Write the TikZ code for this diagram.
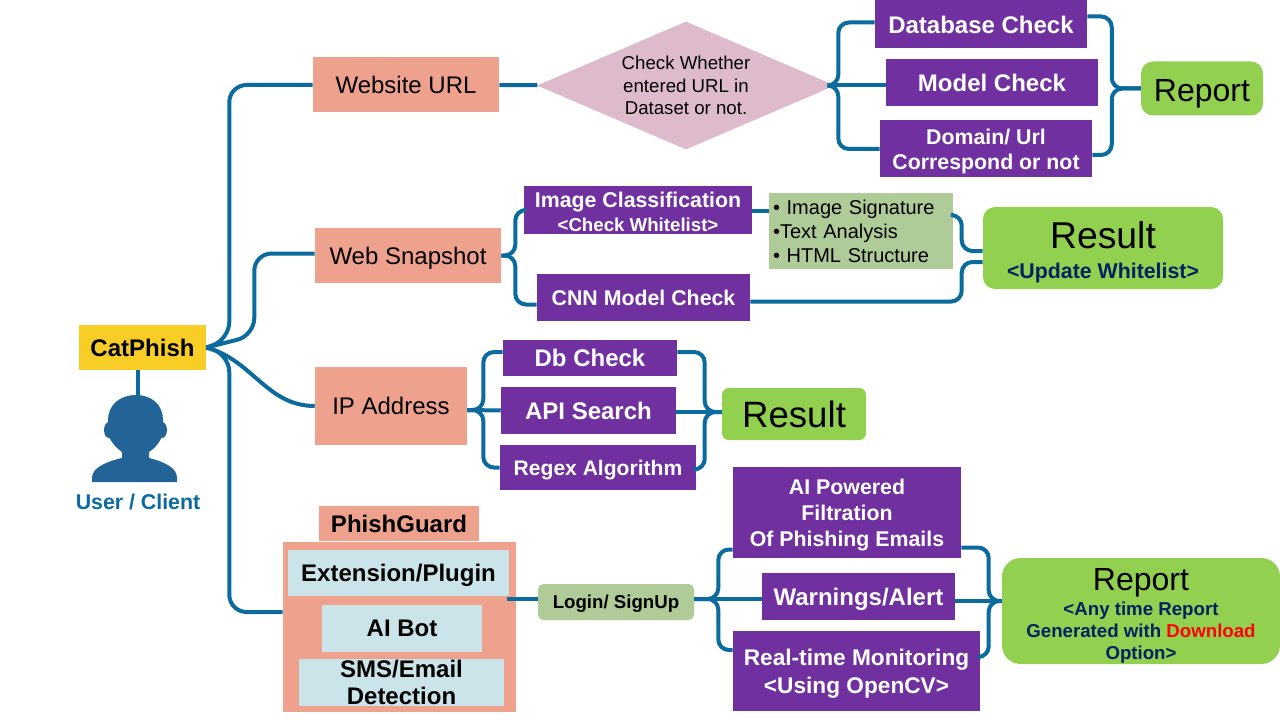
\documentclass[tikz,border=0pt]{standalone}
\usepackage{fontspec}
\setmainfont{Liberation Sans}
\usepackage{xcolor}
\usetikzlibrary{calc}
\usetikzlibrary{shapes.geometric}
\definecolor{linkblue}{HTML}{0B6A9E}
\definecolor{userblue}{HTML}{236498}
\definecolor{salmon}{HTML}{EEA28E}
\definecolor{checkpurple}{HTML}{7030A0}
\definecolor{reportgreen}{HTML}{92D050}
\definecolor{sagegreen}{HTML}{AFCB97}
\definecolor{paleblue}{HTML}{CBE4EA}
\definecolor{rosegrey}{HTML}{DDBBCD}
\definecolor{catyellow}{HTML}{F8CD25}
\definecolor{navytext}{HTML}{002060}
\newcommand{\navyline}[1]{{\bfseries\color{navytext}#1}}
\tikzset{boxsize/.style 2 args={minimum width=#1*0.75pt, minimum height=#2*0.75pt}}
\tikzstyle{inputbox} = [rectangle, fill=salmon, inner sep=0pt, align=center, text depth=0pt, font=\fontsize{18}{21}\selectfont]
\tikzstyle{checkbox} = [rectangle, fill=checkpurple, text=white, inner sep=0pt, align=center, text depth=0pt,
font=\fontsize{18}{19.5}\selectfont\bfseries]
\tikzstyle{toolbox} = [rectangle, fill=paleblue, inner sep=0pt, align=center, text depth=0pt,
font=\fontsize{18}{20.5}\selectfont\bfseries]
\tikzstyle{outbox} = [rectangle, rounded corners=9pt, fill=reportgreen, inner sep=0pt, align=center]
\tikzstyle{link} = [line width=3pt, draw=linkblue, rounded corners=8pt]
\tikzstyle{longlink} = [link, rounded corners=13pt]

\begin{document}
\begin{tikzpicture} [x=0.75pt, y=-0.75pt]
    \useasboundingbox (0,0) rectangle (1280,720);

    % the user side
    \node (CatPhish) [rectangle, fill=catyellow, inner sep=0pt, boxsize={127}{45},
        font=\fontsize{18}{20}\selectfont\bfseries] at (142.5,347.5) {CatPhish};
    \coordinate (UserHead) at (138,397);
    \fill [userblue] (92,478) .. controls (92,468) and (105,462) .. (122,458) -- (122,452)
        .. controls (115,447) and (109,440) .. (108,432) -- (108,420)
        .. controls (108,405) and (120,395) .. (136,395)
        .. controls (152,395) and (163,405) .. (163,420) -- (163,432)
        .. controls (161,442) and (155,448) .. (149,452) -- (149,458)
        .. controls (165,462) and (177,468) .. (177,478) -- (177,482) -- (92,482) -- cycle;
    \fill [userblue] (109,430) ellipse [x radius=5, y radius=8];
    \fill [userblue] (162,430) ellipse [x radius=5, y radius=8];
    \node (UserLabel) [text=linkblue, font=\fontsize{16}{18}\selectfont\bfseries] at (138,502) {User / Client};

    % the url row
    \node (Website) [inputbox, boxsize={186}{55}] at ($(CatPhish) + (263.5,-262.5)$) {Website URL};
    \node (Dataset) [diamond, aspect=2.33, fill=rosegrey, inner sep=0pt, boxsize={298}{128}, align=center, text depth=0pt,
        font=\fontsize{14}{17}\selectfont] at ($(Website) + (280,0.5)$) {Check Whether\\entered URL in\\Dataset or not.};
    \node (Database) [checkbox, boxsize={212}{48}] at ($(Dataset) + (295,-61)$) {Database Check};
    \node (Model) [checkbox, boxsize={212}{47}] at ($(Dataset) + (306,-2.5)$) {Model Check};
    \node (Domain) [checkbox, boxsize={212}{57}, font=\fontsize{16}{19}\selectfont\bfseries] at ($(Dataset) + (300,63.5)$) {Domain/ Url\\Correspond or not};
    \node (ReportA) [outbox, boxsize={122}{54}, text depth=0pt, text height=20pt, font=\fontsize{24}{28}\selectfont] at ($(Dataset) + (516,3)$) {Report};

    % the snapshot row
    \node (Snapshot) [inputbox, boxsize={186}{55}] at ($(CatPhish) + (265.5,-92)$) {Web Snapshot};
    \node (ImgClass) [checkbox, boxsize={228}{48}, text height=33pt, font=\fontsize{16}{18}\selectfont\bfseries] at ($(Snapshot) + (230,-45.5)$)
        {Image Classification\\{\fontsize{14}{16}\selectfont <Check Whitelist>}};
    \node (CNN) [checkbox, boxsize={213}{47}, font=\fontsize{16}{19}\selectfont\bfseries] at ($(Snapshot) + (235.5,42)$) {CNN Model Check};
    \node (Signature) [rectangle, fill=sagegreen, inner sep=0pt, boxsize={184}{76}, text width=176*0.75pt, align=left,
        font=\fontsize{15}{18}\selectfont] at ($(ImgClass) + (223,21)$) {• Image Signature\\•Text Analysis\\• HTML Structure};
    \node (ResultA) [outbox, boxsize={240}{82}, text height=49pt, font=\fontsize{16}{26}\selectfont] at ($(Signature) + (242,17)$)
        {{\fontsize{28}{26}\selectfont Result}\\[-3.75pt]\navyline{<Update Whitelist>}};

    % the ip row
    \node (IPaddr) [inputbox, boxsize={152}{78}] at ($(CatPhish) + (248.5,58.5)$) {IP Address};
    \node (DbCheck) [checkbox, boxsize={174}{36}] at ($(IPaddr) + (199,-48)$) {Db Check};
    \node (APISearch) [checkbox, boxsize={175}{47}] at ($(IPaddr) + (197.5,4.5)$) {API Search};
    \node (Regex) [checkbox, boxsize={196}{45}, font=\fontsize{15.8}{18}\selectfont\bfseries] at ($(IPaddr) + (207,61.5)$) {Regex Algorithm};
    \node (ResultB) [outbox, rounded corners=5pt, boxsize={144}{52}, font=\fontsize{27.5}{32}\selectfont] at ($(IPaddr) + (403,8)$) {Result};

    % the phishguard row
    \node (PhishBox) [rectangle, fill=salmon, boxsize={233}{170}] at ($(CatPhish) + (257,279.5)$) {};
    \node (PhishGuard) [inputbox, boxsize={160}{35}, font=\fontsize{18}{20}\selectfont\bfseries] at ($(PhishBox) + (-0.5,-103.5)$) {PhishGuard};
    \node (Extension) [toolbox, boxsize={221}{46}] at ($(PhishBox) + (-1,-54)$) {Extension/Plugin};
    \node (AIBot) [toolbox, boxsize={160}{47}] at ($(PhishBox) + (2.5,1.5)$) {AI Bot};
    \node (SMS) [toolbox, boxsize={205}{47}] at ($(PhishBox) + (2,55.5)$) {SMS/Email\\Detection};
    \node (Login) [rectangle, rounded corners=4pt, fill=sagegreen, inner sep=0pt, boxsize={156}{36}, text depth=0pt,
        font=\fontsize{14}{16}\selectfont\bfseries] at ($(PhishBox) + (216.5,-25)$) {Login/ SignUp};
    \node (AIPowered) [checkbox, boxsize={228}{91}, font=\fontsize{16}{19.5}\selectfont\bfseries] at ($(Login) + (231,-89.5)$) {AI Powered\\Filtration\\Of Phishing Emails};
    \node (Warnings) [checkbox, boxsize={193}{47}] at ($(Login) + (242.5,-5.5)$) {Warnings/Alert};
    \node (RealTime) [checkbox, boxsize={247}{80}, font=\fontsize{17}{21}\selectfont\bfseries] at ($(Login) + (240.5,69)$) {Real-time Monitoring\\<Using OpenCV>};
    \node (ReportC) [outbox, rounded corners=14pt, boxsize={278}{106}, text height=76pt, font=\fontsize{14}{16.5}\selectfont] at ($(Login) + (525,9)$)
        {{\fontsize{24}{26}\selectfont Report}\\[2.25pt]\navyline{<Any time Report}\\
        \navyline{Generated with {\color{red}Download}}\\\navyline{Option>}};

    % the connectors
    \draw [link] (UserHead |- CatPhish.south) -- (UserHead);
    \draw [longlink] (CatPhish.east) -- ++(23,-8) |- (Website.west);
    \draw [longlink] (CatPhish.east) -- ++(48,-12) |- ($(Snapshot.west) + (0,-2)$);
    \draw [link] (CatPhish.east) to [out=-15, in=180] (IPaddr.west);
    \draw [longlink] (CatPhish.east) -- ++(23,7) |- ($(PhishBox.west) + (0,-15)$);

    \draw [link] (Website) -- (Dataset);
    \draw [link] (Dataset.east) -- ++(3,0) |- ($(Database.west) + (0,-2)$);
    \draw [link] (Dataset.east) -- ($(Model.west) + (0,2.5)$);
    \draw [link] (Dataset.east) -- ++(3,0) |- (Domain.west);
    \draw [link] ($(Database.east) + (0,-8)$) -| ($(ReportA.west) + (-29,0)$) -- (ReportA.west);
    \draw [link] ($(Domain.east) + (0,6)$) -| ($(ReportA.west) + (-29,0)$) -- (ReportA.west);

    \draw [link] (Snapshot.east) -- ++(14,0) |- (ImgClass.west);
    \draw [link] (Snapshot.east) -- ++(14,0) |- ($(CNN.west) + (0,7)$);
    \draw [link] ($(ImgClass.east) + (0,1)$) -- ($(Signature.west) + (0,-20)$);
    \draw [link] ($(Signature.east) + (0,-16)$) -| ($(ResultA.west) + (-21,3)$) -- ($(ResultA.west) + (0,3)$);
    \draw [link] ($(CNN.east) + (0,4)$) -| ($(ResultA.west) + (-21,14)$) -- ($(ResultA.west) + (0,14)$);

    \draw [link] ($(IPaddr.east) + (0,4)$) -- (APISearch.west);
    \draw [link] (IPaddr.east) ++(0,4) -- ++(16,0) |- ($(DbCheck.west) + (0,-6)$);
    \draw [link] (IPaddr.east) ++(0,4) -- ++(16,0) |- (Regex.west);
    \draw [link] ($(DbCheck.east) + (0,-6)$) -| ($(ResultB.west) + (-17,-2)$) -- ($(ResultB.west) + (0,-2)$);
    \draw [link] ($(APISearch.east) + (0,1.5)$) -- ($(ResultB.west) + (0,-2)$);
    \draw [link] ($(Regex.east) + (0,2)$) -| ($(ResultB.west) + (-17,-2)$) -- ($(ResultB.west) + (0,-2)$);

    \draw [link] ($(Login.west) + (-31,-3)$) -- ($(Login.west) + (0,-3)$);
    \draw [link] ($(Login.east) + (0,-3)$) -- ($(Warnings.west) + (0,2.5)$);
    \draw [link] ($(Login.east) + (0,-3)$) -- ++(24,0) |- ($(AIPowered.west) + (0,37)$);
    \draw [link] ($(Login.east) + (0,-3)$) -- ++(24,0) |- ($(RealTime.west) + (0,-21)$);
    \draw [link] ($(AIPowered.east) + (0,35)$) -| ($(ReportC.west) + (-13,-10)$) -- ($(ReportC.west) + (0,-10)$);
    \draw [link] ($(Warnings.east) + (0,4.5)$) -- ($(ReportC.west) + (0,-10)$);
    \draw [link] ($(RealTime.east) + (0,-14)$) -| ($(ReportC.west) + (-13,-10)$) -- ($(ReportC.west) + (0,-10)$);

\end{tikzpicture}
\end{document}
